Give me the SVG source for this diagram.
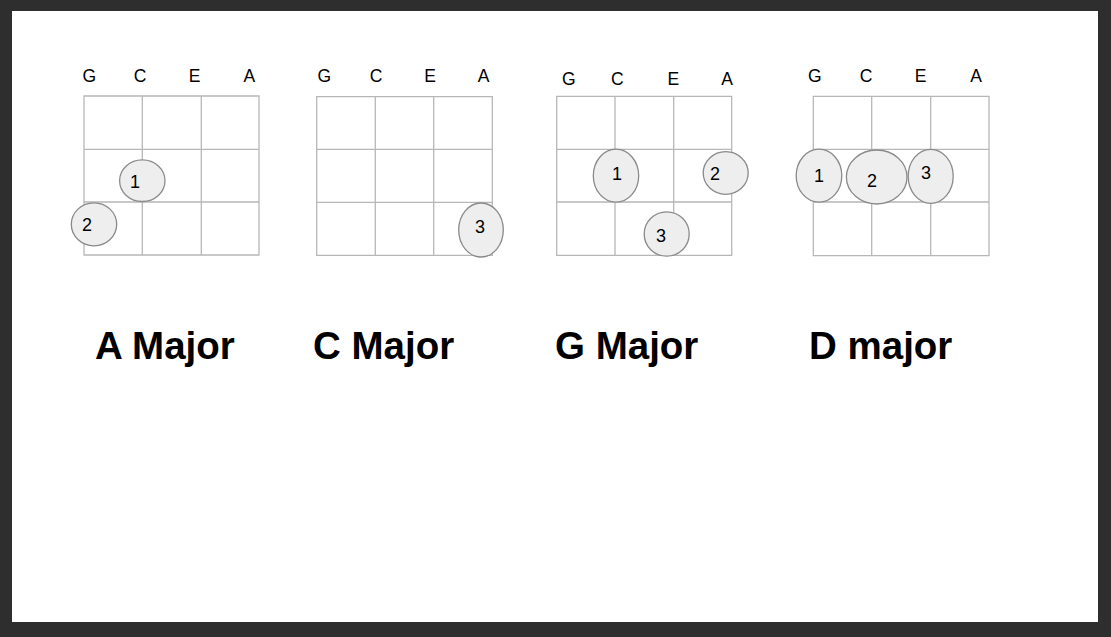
<svg xmlns="http://www.w3.org/2000/svg" width="1111" height="637" viewBox="0 0 1111 637">
<style>
.grid{fill:none;stroke:#b7b7b7;stroke-width:1.3}
.str{font-family:"Liberation Sans",Arial,sans-serif;font-size:17.5px;fill:#000;text-anchor:middle}
.dot{fill:#eeeeee;stroke:#8a8a8a;stroke-width:1.3}
.num{font-family:"Liberation Sans",Arial,sans-serif;font-size:18px;fill:#000;text-anchor:middle}
.title{font-family:"Liberation Sans",Arial,sans-serif;font-size:38.5px;font-weight:bold;fill:#000}
</style>
<rect x="0" y="0" width="1111" height="637" fill="#2e2e2e"/>
<rect x="12" y="11" width="1086" height="611" fill="#ffffff"/>

<g id="chord-a-major">
<path class="grid" d="M84 96H259V255H84Z M142.3 96V255 M201.3 96V255 M84 149.3H259 M84 202H259"/>
<text class="str" x="89.3" y="82">G</text><text class="str" x="140" y="82">C</text><text class="str" x="194.7" y="82">E</text><text class="str" x="249.3" y="82">A</text>
<ellipse class="dot" cx="142.3" cy="180.7" rx="22.7" ry="20.8"/><text class="num" x="135" y="187.5">1</text>
<ellipse class="dot" cx="94" cy="224.3" rx="22.7" ry="21.5"/><text class="num" x="87" y="231">2</text>
<text class="title" x="95" y="359.3">A Major</text>
</g>

<g id="chord-c-major">
<path class="grid" d="M316.7 96.7H492.3V255.3H316.7Z M375.3 96.7V255.3 M433.7 96.7V255.3 M316.7 149.3H492.3 M316.7 202.3H492.3"/>
<text class="str" x="324.3" y="82">G</text><text class="str" x="376" y="82">C</text><text class="str" x="430" y="82">E</text><text class="str" x="483.7" y="82">A</text>
<ellipse class="dot" cx="481" cy="230" rx="22.3" ry="27"/><text class="num" x="480" y="232.5">3</text>
<text class="title" x="313" y="359.3">C Major</text>
</g>

<g id="chord-g-major">
<path class="grid" d="M556.7 96.3H731.7V255.3H556.7Z M615 96.3V255.3 M673.7 96.3V255.3 M556.7 149.3H731.7 M556.7 202H731.7"/>
<text class="str" x="568.7" y="85">G</text><text class="str" x="617.3" y="85">C</text><text class="str" x="673.3" y="85">E</text><text class="str" x="727" y="85">A</text>
<ellipse class="dot" cx="616" cy="175.7" rx="22.7" ry="26.5"/><text class="num" x="617" y="180">1</text>
<ellipse class="dot" cx="725.7" cy="173" rx="22.5" ry="21.3"/><text class="num" x="715" y="180">2</text>
<ellipse class="dot" cx="666.7" cy="234" rx="22.5" ry="22.2"/><text class="num" x="661" y="242">3</text>
<text class="title" x="555" y="359.3">G Major</text>
</g>

<g id="chord-d-major">
<path class="grid" d="M813.3 96.3H989V255.7H813.3Z M871.7 96.3V255.7 M930.7 96.3V255.7 M813.3 149.3H989 M813.3 202H989"/>
<text class="str" x="814.7" y="82">G</text><text class="str" x="866" y="82">C</text><text class="str" x="920.7" y="82">E</text><text class="str" x="976" y="82">A</text>
<ellipse class="dot" cx="819" cy="175.7" rx="22.8" ry="26.5"/><text class="num" x="819" y="182">1</text>
<ellipse class="dot" cx="876.7" cy="177" rx="30.3" ry="27"/><text class="num" x="872" y="187">2</text>
<ellipse class="dot" cx="930.7" cy="176.3" rx="22.5" ry="27"/><text class="num" x="926" y="179">3</text>
<text class="title" x="809" y="359.3">D major</text>
</g>
<g id="connectors"/>
</svg>
